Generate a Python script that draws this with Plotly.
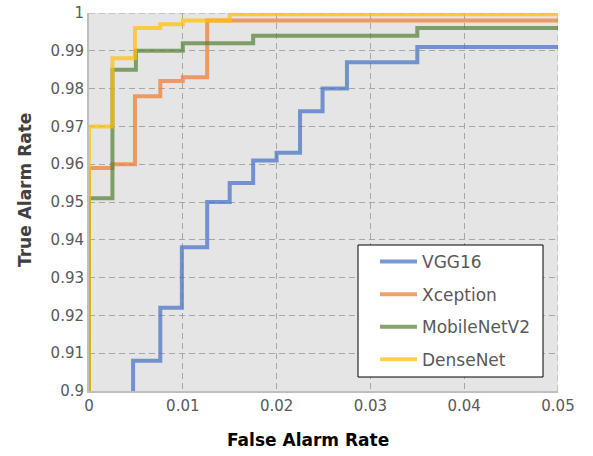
import plotly.graph_objects as go

# ---- data ----
vgg16_x = [0.0, 0.0047, 0.0076, 0.0099, 0.0126, 0.0150, 0.0175, 0.0200, 0.0225, 0.0249, 0.0275, 0.0350, 0.0500]
vgg16_y = [0.880, 0.908, 0.922, 0.938, 0.950, 0.955, 0.961, 0.963, 0.974, 0.980, 0.987, 0.991, 0.991]

xception_x = [0.0, 0.0, 0.0025, 0.0049, 0.0076, 0.0100, 0.0126, 0.0500]
xception_y = [0.880, 0.959, 0.960, 0.978, 0.982, 0.983, 0.998, 0.998]

mobilenet_x = [0.0, 0.0, 0.0025, 0.0050, 0.0100, 0.0175, 0.0350, 0.0500]
mobilenet_y = [0.880, 0.951, 0.985, 0.990, 0.992, 0.994, 0.996, 0.996]

densenet_x = [0.0, 0.0, 0.0025, 0.0049, 0.0076, 0.0100, 0.0150, 0.0500]
densenet_y = [0.880, 0.970, 0.988, 0.996, 0.997, 0.998, 0.9997, 0.9997]

names = ["VGG16", "Xception", "MobileNetV2", "DenseNet"]
colors = ["rgba(68,114,196,0.72)", "rgba(237,125,49,0.72)",
          "rgba(84,130,53,0.72)", "rgba(255,192,0,0.72)"]

x_ticks = [0, 0.01, 0.02, 0.03, 0.04, 0.05]
x_tick_text = ["0", "0.01", "0.02", "0.03", "0.04", "0.05"]
y_ticks = [0.90, 0.91, 0.92, 0.93, 0.94, 0.95, 0.96, 0.97, 0.98, 0.99, 1.00]
y_tick_text = ["0.9", "0.91", "0.92", "0.93", "0.94", "0.95", "0.96", "0.97", "0.98", "0.99", "1"]

series = [(vgg16_x, vgg16_y), (xception_x, xception_y),
          (mobilenet_x, mobilenet_y), (densenet_x, densenet_y)]

fig = go.Figure()
for (xs, ys), name, col in zip(series, names, colors):
    fig.add_trace(go.Scatter(
        x=xs, y=ys, mode="lines", name=name, legendgroup=name,
        line=dict(color=col, width=4, shape="hv"),
    ))

W, H = 593, 456
L, R, T, B = 89, 35, 13, 65
PW, PH = W - L - R, H - T - B


def px_x(fx):  # figure pixel -> paper x
    return (fx - L) / PW


def px_y(fy):  # figure pixel -> paper y
    return (H - B - fy) / PH


GRID = "#a6a6a6"
DASH = "6px,4px"

fig.update_layout(
    width=W, height=H,
    margin=dict(l=L, r=R, t=T, b=B, pad=0),
    paper_bgcolor="white",
    plot_bgcolor="#e5e5e5",
    font=dict(family="DejaVu Sans", color="#595959", size=15),
    showlegend=True,
    legend=dict(
        x=px_x(375), y=px_y(244),
        xanchor="left", yanchor="top",
        bgcolor="rgba(0,0,0,0)", borderwidth=0,
        font=dict(size=17, color="#595959"),
        tracegroupgap=7.5, itemwidth=37,
    ),
    xaxis=dict(
        range=[0, 0.05], tickvals=x_ticks, ticktext=x_tick_text,
        showgrid=True, gridcolor=GRID, griddash=DASH, gridwidth=1,
        zeroline=False, showline=True, linecolor="#bfbfbf", linewidth=2,
        ticks="", fixedrange=True, automargin=False, ticklabeloverflow="allow",
    ),
    yaxis=dict(
        range=[0.9, 1.0], tickvals=y_ticks, ticktext=y_tick_text,
        showgrid=True, gridcolor=GRID, griddash=DASH, gridwidth=1,
        zeroline=False, showline=True, linecolor="#bfbfbf", linewidth=2,
        ticks="", fixedrange=True, automargin=False, ticklabeloverflow="allow",
    ),
    shapes=[
        # grid lines on the top and right edges of the plot area
        dict(type="line", xref="x", yref="y", layer="below",
             x0=x_ticks[0], x1=x_ticks[-1], y0=y_ticks[-1], y1=y_ticks[-1],
             line=dict(color=GRID, width=1, dash=DASH)),
        dict(type="line", xref="x", yref="y", layer="below",
             x0=x_ticks[-1], x1=x_ticks[-1], y0=y_ticks[0], y1=y_ticks[-1],
             line=dict(color=GRID, width=1, dash=DASH)),
        # legend box
        dict(type="rect", xref="paper", yref="paper", layer="above",
             x0=px_x(358), x1=px_x(543), y0=px_y(377), y1=px_y(245),
             fillcolor="white", line=dict(color="black", width=1)),
    ],
    annotations=[
        dict(text="<b>False Alarm Rate</b>", xref="paper", yref="paper",
             x=px_x(308), y=px_y(440),
             xanchor="center", yanchor="middle", showarrow=False, borderpad=0,
             font=dict(size=17, color="black")),
        dict(text="<b>True Alarm Rate</b>", xref="paper", yref="paper",
             x=px_x(25), y=px_y(190),
             xanchor="center", yanchor="middle", showarrow=False, textangle=-90,
             font=dict(size=17, color="#404040")),
    ],
)

fig.write_html("out.html", config={"displayModeBar": False},
               post_script="document.body.style.margin='0px';")
